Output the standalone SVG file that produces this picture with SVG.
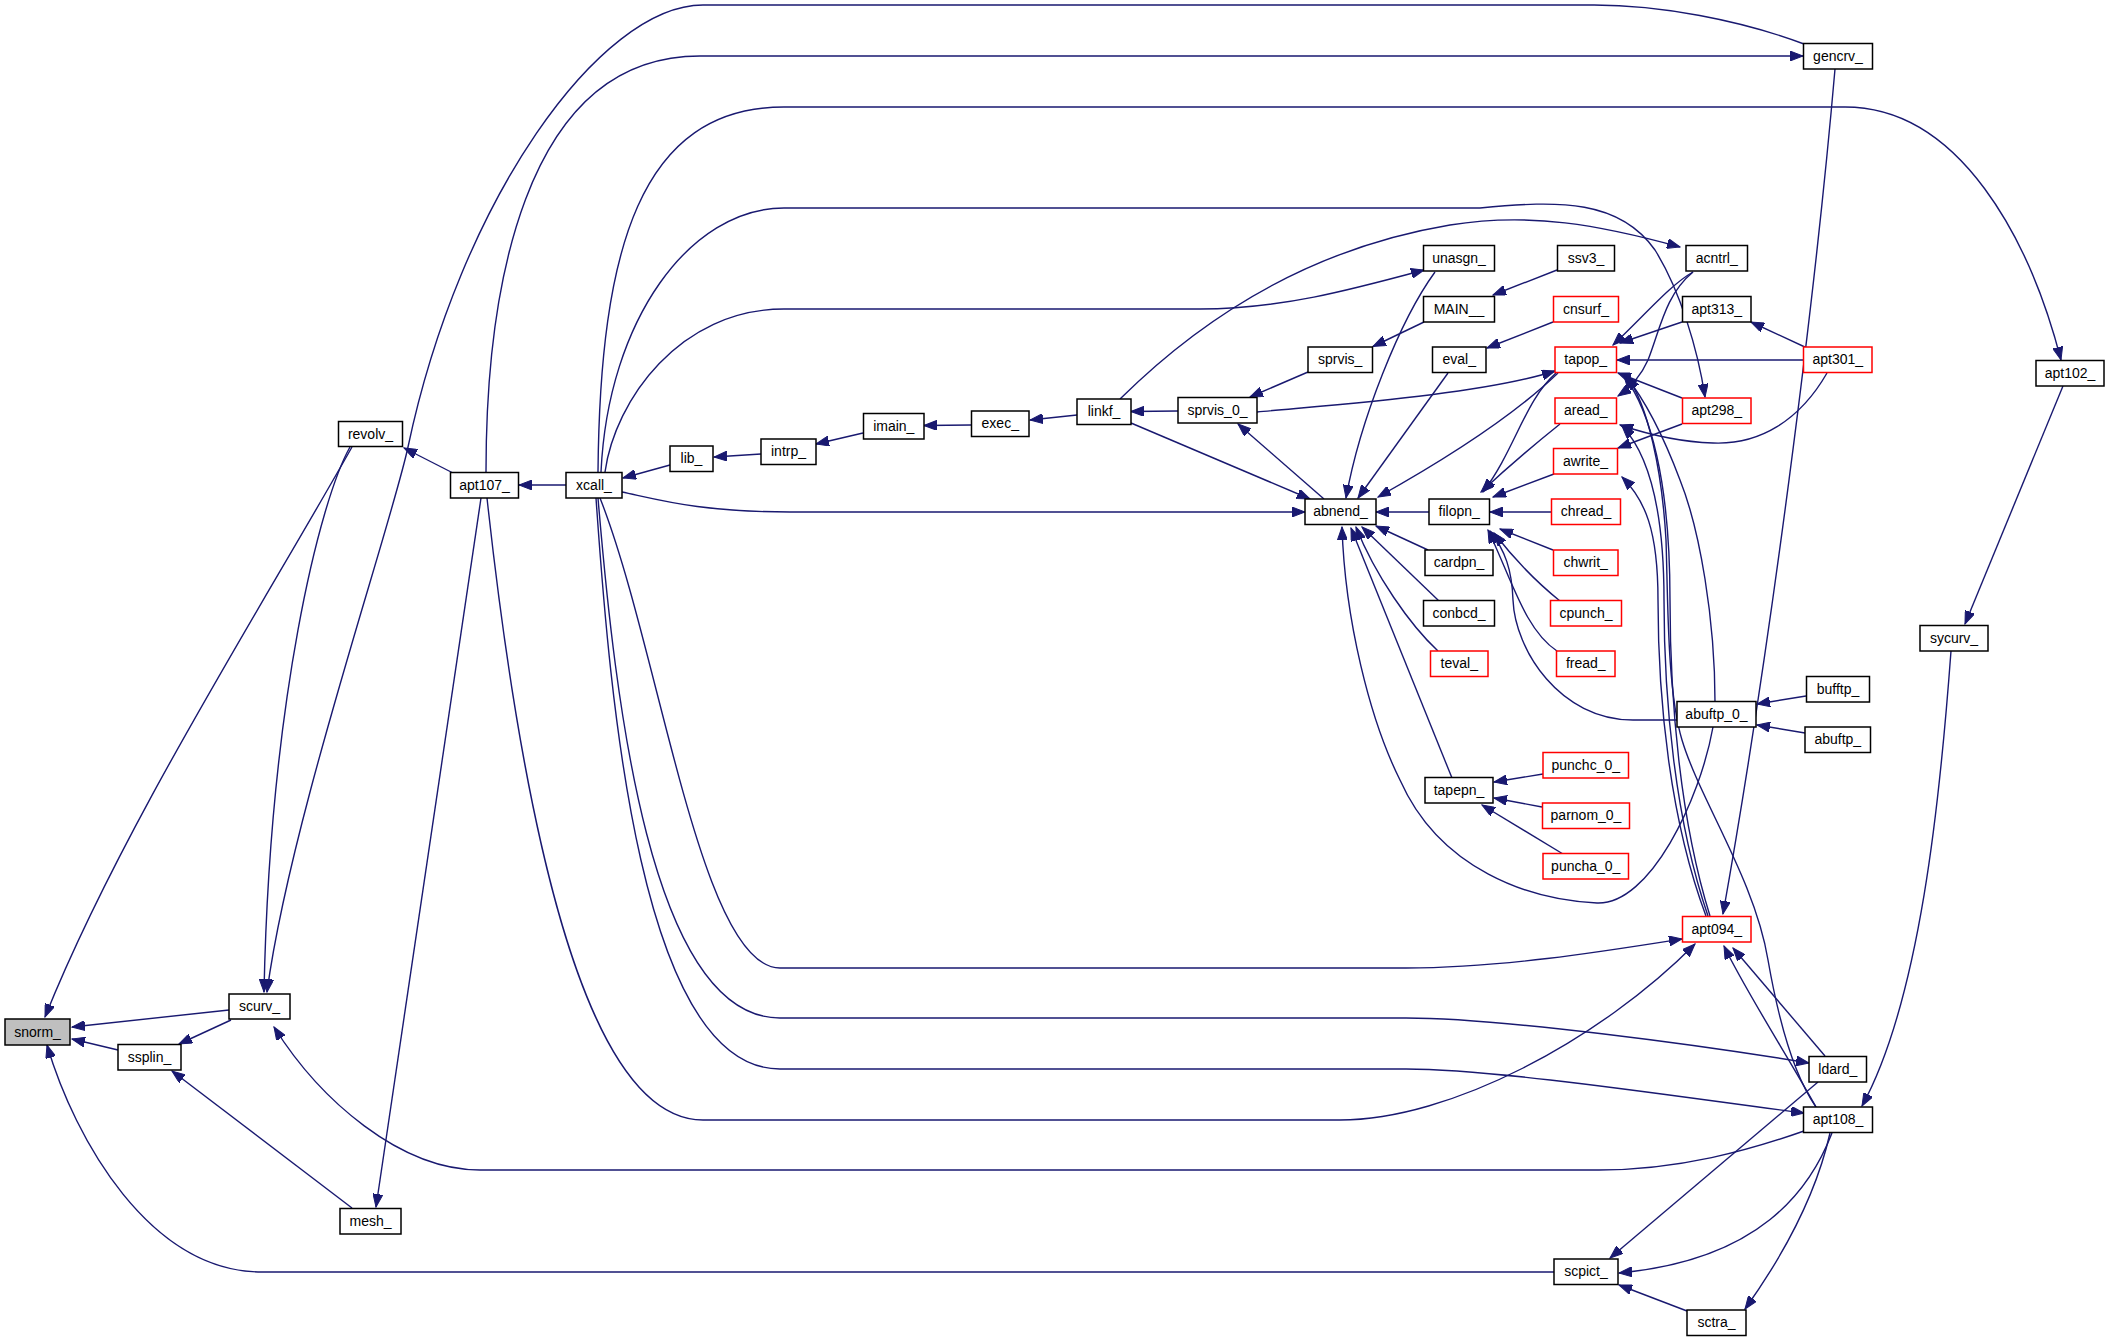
<svg xmlns="http://www.w3.org/2000/svg" width="2109" height="1341" viewBox="0 0 2109 1341">
<defs>
<style>
.node rect{fill:#ffffff;stroke:#000000;stroke-width:1.5}
.node.red rect{stroke:#ff0000}
.node.root rect{fill:#bfbfbf}
.node text{font-family:"Liberation Sans",Arial,Helvetica,sans-serif;font-size:14px;fill:#000000;text-anchor:middle}
.edges path{fill:none;stroke:#191970;stroke-width:1.4;marker-end:url(#ah)}
</style>
<marker id="ah" markerWidth="14" markerHeight="10" refX="13" refY="5" orient="auto" markerUnits="userSpaceOnUse">
<path d="M0,0 L13,5 L0,10 z" fill="#191970" stroke="#191970" stroke-width="1"/>
</marker>
</defs>
<rect x="0" y="0" width="2109" height="1341" fill="#ffffff"/>
<g class="edges" id="edges">
<path d="M352,447 C260,610 120,830 45,1017"/>
<path d="M229,1010 L72,1027"/>
<path d="M118,1050 L72,1039"/>
<path d="M1554,1272 L262,1272 C150,1272 75,1140 47,1045"/>
<path d="M231,1020 L179,1044"/>
<path d="M352,1208 L172,1071"/>
<path d="M350,447 C320,500 270,700 264,992"/>
<path d="M1804,44 C1740,20 1660,5 1594,5 L703,5 C600,5 460,200 408,447 C391,527 290,820 267,992"/>
<path d="M453,473 L404,448"/>
<path d="M566,485 L519,485"/>
<path d="M486,472 C486,300 520,56 700,56 L1803,56"/>
<path d="M481,498 L376,1207"/>
<path d="M487,498 C520,800 580,1120 703,1120 L1340,1120 C1450,1120 1600,1040 1695,944"/>
<path d="M596,498 C610,700 640,1069 780,1069 L1406,1069 C1500,1069 1700,1100 1804,1113"/>
<path d="M598,498 C615,700 650,1018 780,1018 L1406,1018 C1500,1018 1700,1045 1809,1063"/>
<path d="M600,498 C660,650 700,968 780,968 L1406,968 C1500,968 1600,952 1682,939"/>
<path d="M598,472 C600,250 640,107 784,107 L1845,107 C1960,107 2030,240 2061,360"/>
<path d="M601,472 C608,320 690,208 784,208 L1480,208 C1560,200 1620,200 1655,250 C1680,290 1698,350 1705,397"/>
<path d="M605,472 C615,400 680,309 784,309 L1200,309 C1280,309 1350,290 1424,270"/>
<path d="M622,492 C660,500 700,512 790,512 L1305,512"/>
<path d="M670,465 L623,478"/>
<path d="M761,454 L714,457"/>
<path d="M863,433 L816,444"/>
<path d="M971,425 L924,425.5"/>
<path d="M1077,415 L1030,420"/>
<path d="M1178,411 L1131,411.5"/>
<path d="M1308,372 L1250,397"/>
<path d="M1424,322 L1373,346.5"/>
<path d="M1557,270 L1493,295"/>
<path d="M1120,399 C1220,300 1330,245 1450,225 C1530,212 1600,225 1680,247"/>
<path d="M1131,423 L1310,499"/>
<path d="M1324,499 L1238,424"/>
<path d="M1435,272 C1400,320 1360,420 1346,498"/>
<path d="M1448,373 L1358,498"/>
<path d="M1558,373 C1530,400 1480,440 1378,497"/>
<path d="M1553,322 L1487,348"/>
<path d="M1429,512 L1376,512"/>
<path d="M1428,550 L1376,526"/>
<path d="M1439,601 L1362,527"/>
<path d="M1438,651 C1410,625 1375,575 1356,527"/>
<path d="M1452,778 L1351,528"/>
<path d="M1713,727 C1700,800 1650,905 1597,903 C1530,900 1440,870 1400,780 C1370,720 1345,620 1342,527"/>
<path d="M1552,512 L1490,512"/>
<path d="M1553,550 L1500,529"/>
<path d="M1560,601 C1540,585 1515,560 1494,533"/>
<path d="M1557,651 C1525,630 1512,580 1488,530"/>
<path d="M1554,474 L1493,497"/>
<path d="M1560,424 C1540,440 1510,465 1481,492"/>
<path d="M1556,373 C1525,400 1515,450 1483,492"/>
<path d="M1677,720 L1633,720 C1560,720 1515,650 1513,600 C1512,570 1505,550 1490,531"/>
<path d="M1257,412 C1330,405 1480,395 1555,371"/>
<path d="M1803,360 L1617,360"/>
<path d="M1682,322 L1620,343"/>
<path d="M1693,272 C1670,285 1645,315 1613,345"/>
<path d="M1693,272 C1665,295 1660,330 1648,360 C1640,378 1630,388 1618,396"/>
<path d="M1807,348 L1751,322"/>
<path d="M1682,398 L1618,373"/>
<path d="M1682,424 L1618,448"/>
<path d="M1827,373 C1800,420 1760,445 1713,443 C1680,442 1650,435 1620,425"/>
<path d="M1715,702 C1715,620 1700,530 1680,480 C1665,440 1645,400 1625,375"/>
<path d="M1806,696 L1757,704"/>
<path d="M1805,733 L1757,725"/>
<path d="M1543,774 L1494,782"/>
<path d="M1542,807 L1494,798"/>
<path d="M1563,854 L1482,805"/>
<path d="M1835,69 C1815,300 1770,650 1723,914"/>
<path d="M1710,916 C1680,820 1670,700 1670,600 C1670,480 1650,410 1624,376"/>
<path d="M1708,916 C1675,820 1664,700 1664,600 C1664,500 1645,450 1622,426"/>
<path d="M1706,916 C1670,820 1658,700 1658,600 C1658,530 1645,500 1622,477"/>
<path d="M1816,1107 C1790,1070 1775,1000 1768,960 C1755,880 1700,800 1682,740 C1667,690 1668,600 1666,540 C1662,470 1648,405 1627,377"/>
<path d="M1804,1131 C1750,1150 1680,1170 1599,1170 L480,1170 C400,1170 320,1100 274,1027"/>
<path d="M1816,1107 C1790,1060 1745,990 1724,946"/>
<path d="M1825,1056 L1733,948"/>
<path d="M1818,1082 L1610,1258"/>
<path d="M1832,1133 C1810,1190 1760,1260 1619,1273"/>
<path d="M1830,1133 C1815,1200 1780,1260 1745,1309"/>
<path d="M1687,1311 L1619,1285"/>
<path d="M2063,386 L1965,624"/>
<path d="M1951,651 C1940,800 1920,1000 1862,1106"/>
</g>
<g id="node-snorm" class="node root"><rect x="5" y="1019" width="65" height="26"/><text x="37.5" y="1036.5">snorm_</text></g>
<g id="node-scurv" class="node"><rect x="229" y="994" width="61" height="25"/><text x="259.5" y="1011">scurv_</text></g>
<g id="node-ssplin" class="node"><rect x="118" y="1044.5" width="63" height="25.5"/><text x="149.5" y="1061.75">ssplin_</text></g>
<g id="node-mesh" class="node"><rect x="340" y="1208.5" width="61" height="25.5"/><text x="370.5" y="1225.75">mesh_</text></g>
<g id="node-revolv" class="node"><rect x="338.5" y="421.5" width="64" height="25"/><text x="370.5" y="438.5">revolv_</text></g>
<g id="node-apt107" class="node"><rect x="450.5" y="472.5" width="68" height="25.5"/><text x="484.5" y="489.75">apt107_</text></g>
<g id="node-xcall" class="node"><rect x="566" y="472.5" width="56" height="25.5"/><text x="594" y="489.75">xcall_</text></g>
<g id="node-lib" class="node"><rect x="670" y="446" width="43" height="25.5"/><text x="691.5" y="463.25">lib_</text></g>
<g id="node-intrp" class="node"><rect x="761" y="439" width="55" height="25.5"/><text x="788.5" y="456.25">intrp_</text></g>
<g id="node-imain" class="node"><rect x="863.5" y="413.5" width="60.5" height="25.5"/><text x="893.75" y="430.75">imain_</text></g>
<g id="node-exec" class="node"><rect x="971.5" y="411" width="57.5" height="25.5"/><text x="1000.25" y="428.25">exec_</text></g>
<g id="node-linkf" class="node"><rect x="1077" y="399" width="54" height="25.5"/><text x="1104" y="416.25">linkf_</text></g>
<g id="node-sprvis0" class="node"><rect x="1178" y="397.5" width="79" height="25.5"/><text x="1217.5" y="414.75">sprvis_0_</text></g>
<g id="node-sprvis" class="node"><rect x="1308" y="347" width="64.5" height="25.5"/><text x="1340.25" y="364.25">sprvis_</text></g>
<g id="node-abnend" class="node"><rect x="1305" y="499" width="71" height="25.5"/><text x="1340.5" y="516.25">abnend_</text></g>
<g id="node-unasgn" class="node"><rect x="1423.5" y="245.5" width="71" height="25.5"/><text x="1459" y="262.75">unasgn_</text></g>
<g id="node-MAIN" class="node"><rect x="1423.5" y="296.5" width="71" height="25.5"/><text x="1459" y="313.75">MAIN__</text></g>
<g id="node-eval" class="node"><rect x="1432.5" y="347" width="53.5" height="25.5"/><text x="1459.25" y="364.25">eval_</text></g>
<g id="node-filopn" class="node"><rect x="1429" y="499" width="60.5" height="25.5"/><text x="1459.25" y="516.25">filopn_</text></g>
<g id="node-cardpn" class="node"><rect x="1425" y="550" width="68" height="25.5"/><text x="1459" y="567.25">cardpn_</text></g>
<g id="node-conbcd" class="node"><rect x="1423.5" y="600.5" width="71" height="25.5"/><text x="1459" y="617.75">conbcd_</text></g>
<g id="node-teval" class="node red"><rect x="1430.5" y="651" width="57.5" height="25.5"/><text x="1459.25" y="668.25">teval_</text></g>
<g id="node-tapepn" class="node"><rect x="1425" y="777.5" width="68" height="25.5"/><text x="1459" y="794.75">tapepn_</text></g>
<g id="node-ssv3" class="node"><rect x="1557.5" y="245.5" width="57" height="25.5"/><text x="1586" y="262.75">ssv3_</text></g>
<g id="node-cnsurf" class="node red"><rect x="1553.5" y="296.5" width="65" height="25.5"/><text x="1586" y="313.75">cnsurf_</text></g>
<g id="node-tapop" class="node red"><rect x="1555" y="347" width="61.5" height="25.5"/><text x="1585.75" y="364.25">tapop_</text></g>
<g id="node-aread" class="node red"><rect x="1555" y="398" width="61.5" height="25.5"/><text x="1585.75" y="415.25">aread_</text></g>
<g id="node-awrite" class="node red"><rect x="1553.5" y="448.5" width="64" height="25.5"/><text x="1585.5" y="465.75">awrite_</text></g>
<g id="node-chread" class="node red"><rect x="1551.5" y="499" width="69" height="25.5"/><text x="1586" y="516.25">chread_</text></g>
<g id="node-chwrit" class="node red"><rect x="1553.5" y="550" width="64.5" height="25.5"/><text x="1585.75" y="567.25">chwrit_</text></g>
<g id="node-cpunch" class="node red"><rect x="1550.5" y="600.5" width="71" height="25.5"/><text x="1586" y="617.75">cpunch_</text></g>
<g id="node-fread" class="node red"><rect x="1556.5" y="651" width="58.5" height="25.5"/><text x="1585.75" y="668.25">fread_</text></g>
<g id="node-punchc0" class="node red"><rect x="1543" y="752.5" width="85.5" height="25.5"/><text x="1585.75" y="769.75">punchc_0_</text></g>
<g id="node-parnom0" class="node red"><rect x="1542.5" y="803" width="87" height="25.5"/><text x="1586" y="820.25">parnom_0_</text></g>
<g id="node-puncha0" class="node red"><rect x="1543" y="853.5" width="85.5" height="25.5"/><text x="1585.75" y="870.75">puncha_0_</text></g>
<g id="node-scpict" class="node"><rect x="1554" y="1259" width="64" height="25.5"/><text x="1586" y="1276.25">scpict_</text></g>
<g id="node-acntrl" class="node"><rect x="1686" y="245.5" width="61.5" height="25.5"/><text x="1716.75" y="262.75">acntrl_</text></g>
<g id="node-apt313" class="node"><rect x="1682.5" y="296.5" width="68.5" height="25.5"/><text x="1716.75" y="313.75">apt313_</text></g>
<g id="node-apt298" class="node red"><rect x="1682.5" y="398" width="68.5" height="25.5"/><text x="1716.75" y="415.25">apt298_</text></g>
<g id="node-abuftp0" class="node"><rect x="1677" y="701.5" width="79" height="25.5"/><text x="1716.5" y="718.75">abuftp_0_</text></g>
<g id="node-apt094" class="node red"><rect x="1682.5" y="916.5" width="68.5" height="25.5"/><text x="1716.75" y="933.75">apt094_</text></g>
<g id="node-sctra" class="node"><rect x="1687" y="1310" width="59" height="25.5"/><text x="1716.5" y="1327.25">sctra_</text></g>
<g id="node-gencrv" class="node"><rect x="1803.5" y="43.5" width="69" height="25.5"/><text x="1838" y="60.75">gencrv_</text></g>
<g id="node-apt301" class="node red"><rect x="1803.5" y="347" width="68.5" height="25.5"/><text x="1837.75" y="364.25">apt301_</text></g>
<g id="node-bufftp" class="node"><rect x="1806.5" y="676.5" width="63" height="25.5"/><text x="1838" y="693.75">bufftp_</text></g>
<g id="node-abuftp" class="node"><rect x="1805" y="727" width="65.5" height="25.5"/><text x="1837.75" y="744.25">abuftp_</text></g>
<g id="node-ldard" class="node"><rect x="1809" y="1056.5" width="57.5" height="25.5"/><text x="1837.75" y="1073.75">ldard_</text></g>
<g id="node-apt108" class="node"><rect x="1803.5" y="1107" width="69" height="25.5"/><text x="1838" y="1124.25">apt108_</text></g>
<g id="node-sycurv" class="node"><rect x="1920" y="625.5" width="68" height="25.5"/><text x="1954" y="642.75">sycurv_</text></g>
<g id="node-apt102" class="node"><rect x="2036" y="360.5" width="68" height="25.5"/><text x="2070" y="377.75">apt102_</text></g>
</svg>
